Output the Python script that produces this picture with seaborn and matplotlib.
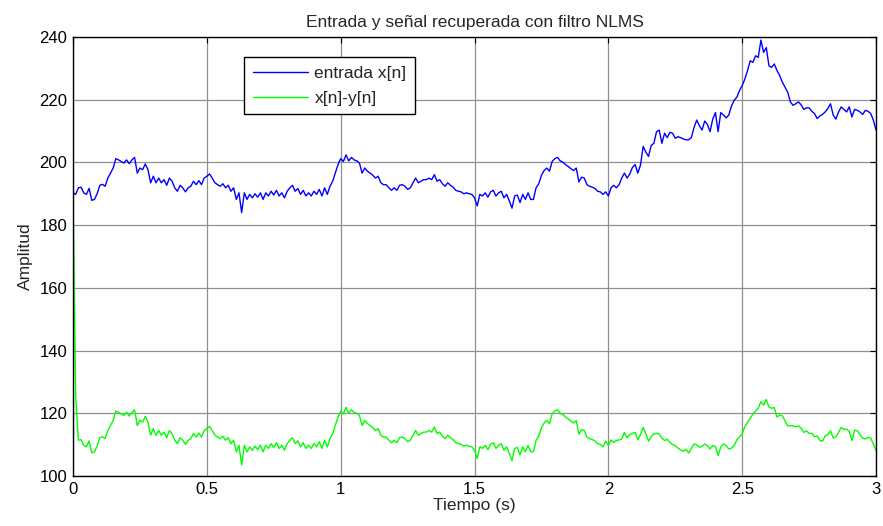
import numpy as np
import pandas as pd
import matplotlib
matplotlib.use("Agg")
import matplotlib.pyplot as plt
import seaborn as sns

fs = 100  # muestras por segundo

entrada = [
    190.3,189.8,191.9,192.1,190.3,189.8,191.7,187.9,188.2,190.0,
    192.7,193.0,192.4,195.0,196.6,198.2,201.2,200.8,200.3,199.8,
    200.8,199.6,200.8,201.6,196.6,198.2,197.7,199.5,197.7,193.5,
    195.6,193.5,195.0,193.5,194.5,192.7,195.0,194.0,191.9,190.8,
    192.7,191.9,190.6,191.9,192.4,194.0,192.9,194.2,192.9,195.0,
    195.6,196.3,
    195.0,193.5,192.9,192.4,193.2,191.9,192.7,190.8,191.9,188.2,
    190.3,184.0,190.3,188.2,189.8,188.7,190.0,188.9,190.3,188.2,
    190.3,189.3,190.8,189.6,191.1,189.3,190.3,188.7,190.8,191.9,
    192.7,190.8,191.7,189.8,191.1,189.3,190.3,189.3,190.8,189.8,
    191.4,189.3,191.9,189.8,192.4,194.0,196.6,199.3,201.2,200.3,
    202.4,200.5,201.6,200.8,200.5,199.8,196.6,198.2,197.2,196.6,
    195.9,195.0,195.6,193.5,192.9,192.9,191.9,191.1,191.9,191.1,
    192.7,192.9,192.4,191.4,191.9,193.5,195.0,193.5,194.0,194.5,
    194.5,195.0,194.5,196.1,194.0,194.5,193.2,192.4,193.5,192.7,
    192.1,191.1,190.8,190.6,190.0,190.3,190.0,189.8,188.7,186.1,
    189.8,189.3,190.3,188.9,190.6,191.1,189.3,190.3,190.8,188.7,
    189.8,187.7,185.4,189.3,189.6,187.2,189.8,188.2,190.3,188.2,
    188.2,191.9,193.2,195.9,197.4,198.2,197.2,200.3,201.2,201.6,
    200.5,200.1,199.3,198.7,198.0,197.4,198.2,193.8,195.3,195.0,
    192.9,192.4,192.1,191.7,190.8,190.6,189.8,190.6,189.3,191.9,192.7,
    191.9,192.9,195.0,196.6,195.0,196.3,198.4,199.3,196.6,199.1,
    205.1,203.3,201.9,205.4,206.1,209.8,210.3,206.1,209.3,207.9,
    209.6,209.3,207.7,208.2,207.9,207.5,207.2,207.2,207.9,211.1,
    213.5,211.7,210.3,213.2,212.1,209.8,213.8,215.9,209.8,215.9,
    215.1,214.2,215.1,218.0,219.8,220.8,222.9,224.5,226.6,229.3,232.4,
    231.9,234.0,233.5,239.0,235.1,236.6,230.8,230.3,231.4,229.3,
    227.7,225.6,224.0,222.4,219.3,218.2,218.7,219.3,218.4,216.9,
    217.4,217.4,216.3,215.6,214.0,214.8,215.3,216.1,217.2,218.7,
    215.1,213.8,216.1,217.7,216.9,216.1,217.7,214.5,216.9,216.6,
    216.1,215.3,216.6,216.3,215.6,213.5,210.3,
]

recuperada = [
    190.3,125.0,
    111.4,111.6,109.8,109.3,111.2,107.4,107.7,109.5,
    112.2,112.5,111.9,114.5,116.1,117.7,120.7,120.3,119.8,119.3,
    120.3,119.1,120.3,121.1,116.1,117.7,117.2,119.0,117.2,113.0,
    115.1,113.0,114.5,113.0,114.0,112.2,114.5,113.5,111.4,110.3,
    112.2,111.4,110.1,111.4,111.9,113.5,112.4,113.7,112.4,114.5,
    115.1,115.8,
    114.5,113.0,112.4,111.9,112.7,111.4,112.2,110.3,111.4,107.7,
    109.8,103.5,109.8,107.7,109.3,108.2,109.5,108.4,109.8,107.7,
    109.8,108.8,110.3,109.1,110.6,108.8,109.8,108.2,110.3,111.4,
    112.2,110.3,111.2,109.3,110.6,108.8,109.8,108.8,110.3,109.3,
    110.9,108.8,111.4,109.3,111.9,113.5,116.1,118.8,120.7,119.8,
    121.9,120.0,121.1,120.3,120.0,119.3,116.1,117.7,116.7,116.1,
    115.4,114.5,115.1,113.0,112.4,112.4,111.4,110.6,111.4,110.6,
    112.2,112.4,111.9,110.9,111.4,113.0,114.5,113.0,113.5,114.0,
    114.0,114.5,114.0,115.6,113.5,114.0,112.7,111.9,113.0,112.2,
    111.6,110.6,110.3,110.1,109.5,109.8,109.5,109.3,108.2,105.6,
    109.3,108.8,109.8,108.4,110.1,110.6,108.8,109.8,110.3,108.2,
    109.3,107.2,104.9,108.8,109.1,106.7,109.3,107.7,109.8,107.7,
    107.7,111.4,112.7,115.4,116.9,117.7,116.7,119.8,120.7,121.1,
    120.0,119.6,118.8,118.2,117.5,116.9,117.7,113.3,114.8,114.5,
    112.4,111.9,111.6,111.2,110.3,110.1,109.3,
    111.1,109.7,111.5,110.7,111.3,111.5,111.8,113.9,112.1,113.2,
    113.6,113.9,111.5,113.2,115.5,113.4,111.1,112.5,113.4,113.6,
    113.4,112.1,111.3,111.7,110.7,110.0,109.7,108.9,108.3,107.9,
    108.5,107.3,108.8,110.2,110.0,109.2,109.4,110.2,109.7,108.6,
    109.7,109.4,106.5,109.2,110.2,109.7,108.6,108.9,109.7,111.5,
    112.5,113.4,115.7,117.1,118.4,
    119.7,120.7,121.6,123.7,122.6,124.4,122.0,121.6,121.8,118.8,
    119.5,119.2,117.6,116.0,116.0,116.0,115.7,116.0,115.3,113.9,
    114.4,113.6,113.6,112.5,112.8,111.3,111.1,112.8,113.2,114.4,
    112.1,112.5,113.9,115.5,114.9,114.9,114.2,111.3,114.6,114.4,
    113.2,112.1,111.8,112.3,112.1,110.2,108.1,
]

series_names = ["entrada x[n]", "x[n]-y[n]"]
series_colors = ["#0000ff", "#00ff00"]
xticks = [0, 0.5, 1, 1.5, 2, 2.5, 3]
xticklabels = ["0", "0.5", "1", "1.5", "2", "2.5", "3"]
yticks = [100, 120, 140, 160, 180, 200, 220, 240]

t = np.arange(len(entrada)) / fs
df = pd.concat([
    pd.DataFrame({"t": t, "v": entrada, "serie": series_names[0]}),
    pd.DataFrame({"t": np.arange(len(recuperada)) / fs, "v": recuperada, "serie": series_names[1]}),
])

sns.set_style("white")
plt.rcParams["font.family"] = ["Liberation Sans", "DejaVu Sans"]

fig = plt.figure(figsize=(8.83, 5.26), dpi=100)
ax = fig.add_axes([0.0827, 0.0951, 0.9094, 0.8346])

sns.lineplot(data=df, x="t", y="v", hue="serie", palette=series_colors,
             hue_order=series_names, linewidth=1.0, ax=ax, legend=True)

ax.set_xlim(0, 3)
ax.set_ylim(100, 240)
ax.set_xticks(xticks)
ax.set_xticklabels(xticklabels)
ax.set_yticks(yticks)
ax.grid(True, color="#909090", linewidth=0.9)
ax.set_axisbelow(True)
ax.tick_params(direction="in", top=True, right=True, length=4, width=0.8,
               labelsize=12, colors="black", pad=4)
for s in ax.spines.values():
    s.set_color("black")
    s.set_linewidth(1.0)
    s.set_visible(True)

ax.set_title("Entrada y señal recuperada con filtro NLMS", fontsize=12.5, pad=7)
ax.set_xlabel("Tiempo (s)", fontsize=12.5, labelpad=1)
ax.set_ylabel("Amplitud", fontsize=12.5, labelpad=5)

leg = ax.legend(loc="upper left", bbox_to_anchor=(0.213, 0.954), fontsize=12.5,
                frameon=True, fancybox=False, edgecolor="black", framealpha=1,
                handlelength=3.2, borderpad=0.5, labelspacing=0.55,
                handletextpad=0.35, borderaxespad=0)
leg.get_frame().set_linewidth(1.0)

fig.savefig("out.png", dpi=100)
